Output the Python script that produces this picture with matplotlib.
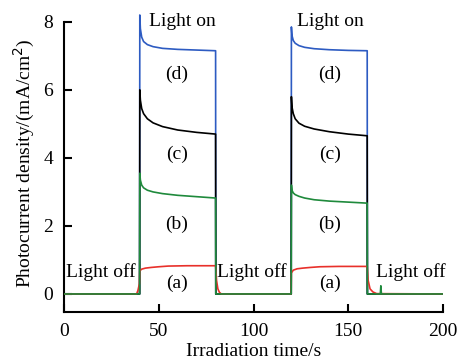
import matplotlib
matplotlib.use("Agg")
import matplotlib.pyplot as plt

# ---- data ----
t_d = [0, 39.9, 40.0, 40.3, 41, 42, 44, 47, 52, 60, 70, 80, 80.1,
       119.9, 120.0, 120.3, 121, 122, 124, 127, 132, 140, 150, 160, 160.1, 200]
v_d = [0, 0, 8.2, 7.8, 7.55, 7.42, 7.33, 7.27, 7.22, 7.19, 7.17, 7.15, 0,
       0, 7.85, 7.6, 7.45, 7.37, 7.3, 7.25, 7.21, 7.18, 7.16, 7.15, 0, 0]

t_c = [0, 39.9, 40.0, 40.3, 41, 42, 44, 47, 52, 60, 70, 80, 80.1,
       119.9, 120.0, 120.3, 121, 122, 124, 127, 132, 140, 150, 160, 160.1, 200]
v_c = [0, 0, 6.0, 5.7, 5.45, 5.3, 5.15, 5.03, 4.92, 4.82, 4.75, 4.7, 0,
       0, 5.8, 5.5, 5.3, 5.15, 5.02, 4.93, 4.85, 4.77, 4.7, 4.65, 0, 0]

t_b = [0, 39.9, 40.0, 40.3, 41, 42, 44, 47, 52, 60, 70, 80, 80.1,
       119.9, 120.0, 120.3, 121, 122, 124, 127, 132, 140, 150, 160, 160.1,
       166.9, 167.2, 167.5, 200]
v_b = [0, 0, 3.55, 3.35, 3.2, 3.12, 3.05, 3.0, 2.95, 2.9, 2.86, 2.82, 0,
       0, 3.2, 3.05, 2.97, 2.92, 2.87, 2.82, 2.77, 2.73, 2.7, 2.67, 0,
       0, 0.24, 0, 0]

t_a = [0, 38.3, 39.0, 39.8, 40.0, 41, 43, 46, 50, 55, 65, 80, 80.5, 81.2, 82, 83,
       119.9, 120.0, 121, 123, 126, 130, 135, 145, 160, 160.5, 161.5, 163, 165, 200]
v_a = [0, 0, 0.1, 0.3, 0.68, 0.73, 0.76, 0.78, 0.8, 0.82, 0.83, 0.83, 0.4, 0.15, 0.05, 0,
       0, 0.62, 0.7, 0.74, 0.76, 0.78, 0.8, 0.81, 0.81, 0.4, 0.15, 0.06, 0.01, 0]

plt.rcParams['font.family'] = ['Liberation Serif', 'DejaVu Serif']

fig = plt.figure(figsize=(4.59, 3.60), dpi=100)
ax = fig.add_axes([64/459, 1 - 312/360, (443-64)/459, (312-14)/360])

ax.plot(t_d, v_d, color='#2d5bc2', lw=1.2, zorder=2)
ax.plot(t_c, v_c, color='#000000', lw=1.2, zorder=3)
ax.plot(t_a, v_a, color='#e8302a', lw=1.2, zorder=4)
ax.plot(t_b, v_b, color='#1f8a3c', lw=1.2, zorder=5)

ax.set_xlim(0, 200)
ax.set_ylim(-0.53, 8.23)
ax.spines['top'].set_visible(False)
ax.spines['right'].set_visible(False)
ax.spines['left'].set_bounds(-0.53, 8)
for s in ('left', 'bottom'):
    ax.spines[s].set_linewidth(1.5)
ax.set_xticks([0, 50, 100, 150, 200])
ax.set_yticks([0, 2, 4, 6, 8])
ax.tick_params(direction='in', length=6, width=1.5, labelsize=14, pad=8)

ax.set_xlabel('Irradiation time/s', fontsize=14, labelpad=2)
ax.set_ylabel('Photocurrent density/(mA/cm$^2$)', fontsize=14, labelpad=4)

fs = 14
for x in (62.5, 140.5):
    ax.text(x, 8.0, 'Light on', ha='center', va='center', fontsize=fs)
for x in (59.5, 140.4):
    ax.text(x, 6.47, '(d)', ha='center', va='center', fontsize=fs)
    ax.text(x, 4.1, '(c)', ha='center', va='center', fontsize=fs)
    ax.text(x, 2.06, '(b)', ha='center', va='center', fontsize=fs)
    ax.text(x, 0.3, '(a)', ha='center', va='center', fontsize=fs)
for x in (19.5, 99, 183):
    ax.text(x, 0.65, 'Light off', ha='center', va='center', fontsize=fs)

fig.savefig('out.png', dpi=100)
